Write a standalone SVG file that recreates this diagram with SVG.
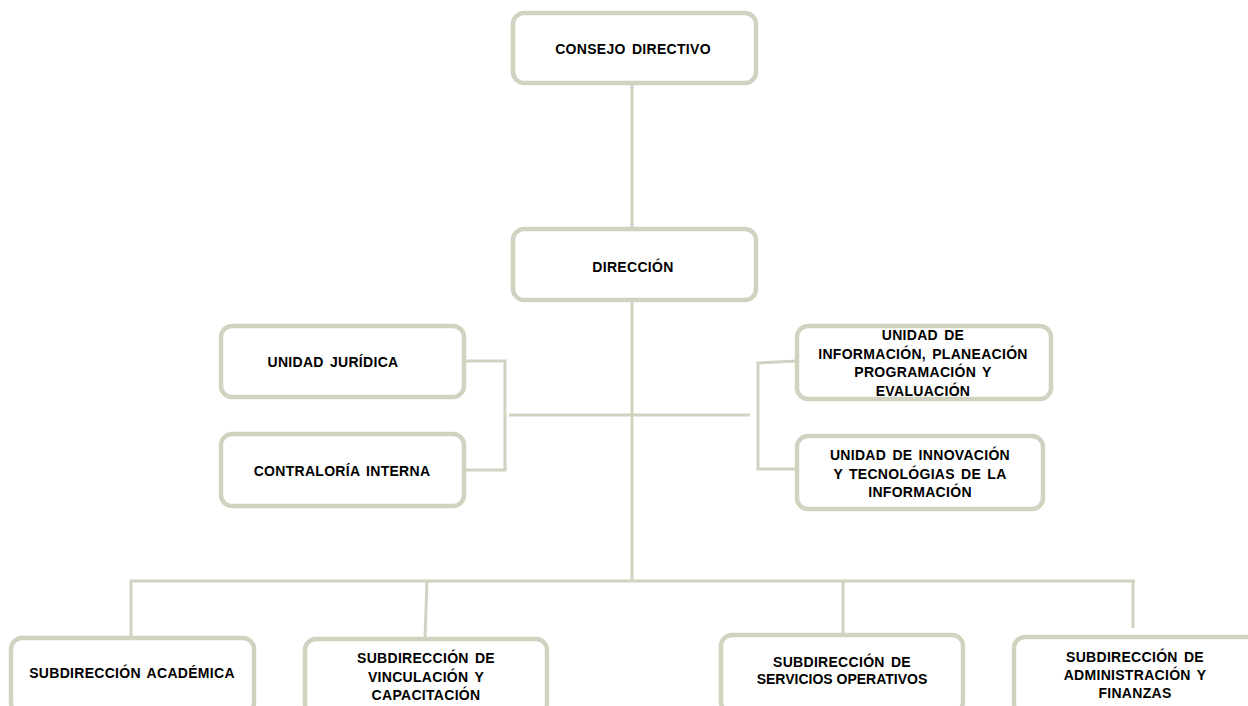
<svg xmlns="http://www.w3.org/2000/svg" width="1248" height="706" viewBox="0 0 1248 706">
<style>
.box{fill:#ffffff;stroke:#d0d3bf;stroke-width:4.5}
.ln{fill:none;stroke:#d0d3bf;stroke-width:3}
text{font-family:"Liberation Sans",Arial,sans-serif;font-weight:bold;font-size:14px;fill:#000;text-anchor:middle;letter-spacing:0.3px;word-spacing:2px}
</style>
<rect width="1248" height="706" fill="#ffffff"/>
<g id="connectors">
<path class="ln" d="M632 83V229"/>
<path class="ln" d="M632 300V581"/>
<path class="ln" d="M509 415H750"/>
<path class="ln" d="M464 361H505V470H464"/>
<path class="ln" d="M796 361L758 363V469H796"/>
<path class="ln" d="M130 581H1135"/>
<path class="ln" d="M131 580V637"/>
<path class="ln" d="M427 580L425 638"/>
<path class="ln" d="M843 580V635"/>
<path class="ln" d="M1133 580V628"/>
</g>
<g id="consejo">
<rect class="box" x="513" y="13" width="243" height="70" rx="11"/>
<text x="633" y="54">CONSEJO DIRECTIVO</text>
</g>
<g id="direccion">
<rect class="box" x="513" y="229" width="243" height="71" rx="11"/>
<text x="633" y="272">DIRECCIÓN</text>
</g>
<g id="juridica">
<rect class="box" x="221" y="326" width="243" height="71" rx="11"/>
<text x="333" y="367">UNIDAD JURÍDICA</text>
</g>
<g id="contraloria">
<rect class="box" x="221" y="434" width="243" height="72" rx="11"/>
<text x="342" y="476">CONTRALORÍA INTERNA</text>
</g>
<g id="informacion">
<rect class="box" x="797" y="326" width="254" height="73" rx="11"/>
<text x="923" y="340">UNIDAD DE</text>
<text x="923" y="358.5">INFORMACIÓN, PLANEACIÓN</text>
<text x="923" y="377">PROGRAMACIÓN Y</text>
<text x="923" y="395.5">EVALUACIÓN</text>
</g>
<g id="innovacion">
<rect class="box" x="797" y="436" width="246" height="73" rx="11"/>
<text x="920" y="460">UNIDAD DE INNOVACIÓN</text>
<text x="920" y="478.5">Y TECNOLÓGIAS DE LA</text>
<text x="920" y="497">INFORMACIÓN</text>
</g>
<g id="academica">
<rect class="box" x="11" y="638" width="243" height="76" rx="11"/>
<text x="132" y="678">SUBDIRECCIÓN ACADÉMICA</text>
</g>
<g id="vinculacion">
<rect class="box" x="305" y="639" width="242" height="76" rx="11"/>
<text x="426" y="663">SUBDIRECCIÓN DE</text>
<text x="426" y="681.5">VINCULACIÓN Y</text>
<text x="426" y="700">CAPACITACIÓN</text>
</g>
<g id="servicios">
<rect class="box" x="721" y="635" width="242" height="78" rx="11"/>
<text x="842" y="667">SUBDIRECCIÓN DE</text>
<text x="842" y="684" style="letter-spacing:0px;word-spacing:0px">SERVICIOS OPERATIVOS</text>
</g>
<g id="administracion">
<rect class="box" x="1014" y="637" width="244" height="78" rx="11"/>
<text x="1135" y="662">SUBDIRECCIÓN DE</text>
<text x="1135" y="680">ADMINISTRACIÓN Y</text>
<text x="1135" y="698">FINANZAS</text>
</g>
</svg>
